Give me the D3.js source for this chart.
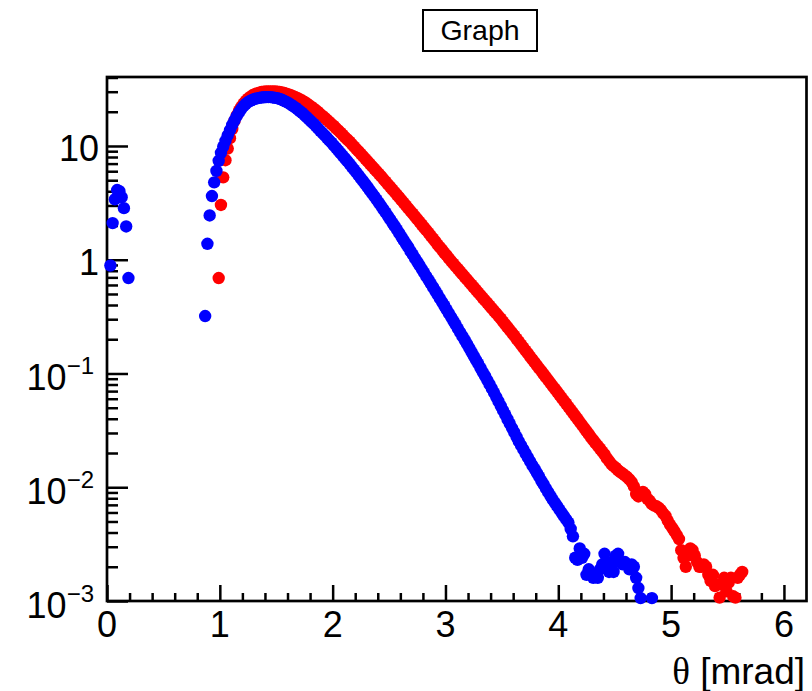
<!DOCTYPE html>
<html>
<head>
<meta charset="utf-8">
<script src="https://d3js.org/d3.v7.min.js"></script>
<style>
  body { margin: 0; background: #fff; }
  text { font-family: "Liberation Sans", Arial, Helvetica, sans-serif; fill: #000; }
  .tick line { stroke: #000; stroke-width: 2.5px; }
</style>
</head>
<body>
<svg id="chart" width="812" height="691"></svg>
<script>
  // bins are 0.02 mrad wide (null = empty bin)
  const binWidth = 0.02;

  // blue: small group near theta = 0
  const blueLowStart = 0.03;
  const blueLow = [0.89, 2.1, 3.4, 4.1, 4.0, 3.55, 2.84, 1.96, 0.69];

  // blue: main distribution, starting at 0.87 mrad
  const blueStart = 0.87;
  const blueVals = [
    0.32, 1.38, 2.45, 3.63, 4.79, 6.03, 7.41, 8.71, 9.89, 11.1,
    12.4, 13.8, 15.3, 16.8, 18.3, 19.7, 21.1, 22.4, 23.4, 24.3,
    24.9, 25.5, 25.9, 26.2, 26.5, 26.7, 26.8, 26.9, 26.9, 26.9,
    26.7, 26.5, 26.3, 25.9, 25.5, 24.9, 24.4, 23.8, 23.1, 22.4,
    21.7, 21.0, 20.2, 19.5, 18.7, 17.9, 17.1, 16.4, 15.7, 15.0,
    14.3, 13.6, 13.0, 12.4, 11.8, 11.2, 10.7, 10.1, 9.62, 9.12,
    8.65, 8.20, 7.76, 7.35, 6.95, 6.56, 6.19, 5.85, 5.52, 5.20,
    4.90, 4.61, 4.34, 4.07, 3.83, 3.60, 3.37, 3.16, 2.96, 2.77,
    2.59, 2.42, 2.26, 2.11, 1.97, 1.84, 1.71, 1.59, 1.48, 1.38,
    1.29, 1.19, 1.11, 1.03, 0.959, 0.891, 0.828, 0.769, 0.714, 0.664,
    0.617, 0.573, 0.531, 0.493, 0.457, 0.424, 0.394, 0.365, 0.338, 0.313,
    0.290, 0.269, 0.248, 0.230, 0.213, 0.197, 0.182, 0.168, 0.155, 0.143,
    0.132, 0.122, 0.112, 0.103, 0.0951, 0.0875, 0.0805, 0.0741, 0.0679, 0.0621,
    0.0568, 0.0519, 0.0474, 0.0434, 0.0396, 0.0362, 0.0331, 0.0303, 0.0277, 0.0253,
    0.0233, 0.0215, 0.0198, 0.0183, 0.0169, 0.0156, 0.0145, 0.0134, 0.0124, 0.0114,
    0.0106, 0.00977, 0.00904, 0.00838, 0.00780, 0.00728, 0.00681, 0.00637, 0.00596, 0.00557,
    0.00521, 0.00488, 0.0043, 0.0037, 0.0024, 0.0023, 0.0029, 0.0024, 0.0026, 0.0017,
    0.0019, 0.0017, 0.0016, 0.0017, 0.0016, 0.0019, 0.0021, 0.0026, 0.0022, 0.0018,
    0.0021, 0.0018, 0.0025, 0.0026, 0.0022, 0.0021, 0.0022, 0.0021, 0.0019, 0.0021,
    0.0020, 0.0016, 0.0013, 0.00106, null, null, null, null, 0.00106
  ];

  // red: starting at 0.99 mrad
  const redStart = 0.99;
  const redVals = [
    0.69, 3.03, 5.3, 7.5, 9.5, 11.7, 14.1, 16.6, 18.6, 20.4,
    22.1, 23.6, 24.9, 26.1, 27.0, 27.9, 28.5, 29.0, 29.4, 29.8,
    30.0, 30.1, 30.2, 30.2, 30.1, 30.1, 30.0, 29.8, 29.5, 29.2,
    28.8, 28.4, 27.9, 27.4, 26.9, 26.3, 25.7, 25.1, 24.4, 23.7,
    22.9, 22.2, 21.4, 20.7, 19.9, 19.1, 18.4, 17.7, 17.0, 16.3,
    15.6, 15.0, 14.3, 13.7, 13.1, 12.5, 11.9, 11.4, 10.9, 10.4,
    9.86, 9.40, 8.95, 8.53, 8.11, 7.71, 7.33, 6.97, 6.62, 6.30,
    5.98, 5.69, 5.40, 5.12, 4.85, 4.60, 4.37, 4.14, 3.93, 3.72,
    3.53, 3.34, 3.16, 2.99, 2.83, 2.68, 2.54, 2.40, 2.27, 2.15,
    2.03, 1.92, 1.82, 1.72, 1.62, 1.53, 1.45, 1.36, 1.29, 1.22,
    1.15, 1.09, 1.03, 0.973, 0.923, 0.875, 0.830, 0.787, 0.746, 0.708,
    0.671, 0.637, 0.604, 0.573, 0.543, 0.515, 0.489, 0.463, 0.440, 0.417,
    0.395, 0.375, 0.356, 0.337, 0.320, 0.303, 0.286, 0.270, 0.255, 0.241,
    0.228, 0.215, 0.202, 0.191, 0.179, 0.169, 0.159, 0.150, 0.141, 0.133,
    0.125, 0.118, 0.111, 0.105, 0.0986, 0.0929, 0.0875, 0.0824, 0.0776, 0.0731,
    0.0689, 0.0649, 0.0611, 0.0575, 0.0542, 0.0509, 0.0479, 0.0450, 0.0423, 0.0398,
    0.0374, 0.0352, 0.0331, 0.0311, 0.0293, 0.0275, 0.0259, 0.0244, 0.0231, 0.0218,
    0.0206, 0.0194, 0.0180, 0.0170, 0.0160, 0.0153, 0.0148, 0.0141, 0.0136, 0.0132,
    0.0127, 0.0123, 0.0117, 0.0111, 0.0102, 0.0087, 0.0083, 0.0087, 0.0091, 0.0087,
    0.0079, 0.0076, 0.0071, 0.0069, 0.0068, 0.0066, 0.0063, 0.0059, 0.0056, 0.0051,
    0.0047, 0.0044, 0.0041, 0.0038, 0.0035, 0.0028, 0.0024, 0.0020, 0.0025, 0.0029,
    0.0028, 0.0025, 0.0022, 0.0020, 0.0020, 0.0021, 0.0020, 0.0017, 0.0015, 0.0017,
    0.00135, 0.0014, 0.00107, 0.0014, 0.0016, 0.00122, 0.00145, 0.0016, 0.0011, 0.00107,
    0.0016, 0.0017, 0.0018
  ];

  const xTickValues = [0, 1, 2, 3, 4, 5, 6];
  const xTickLabels = ["0", "1", "2", "3", "4", "5", "6"];
  const yTickValues = [1e-3, 1e-2, 1e-1, 1, 10];
  const yTickBase = ["10", "10", "10", "1", "10"];
  const yTickExp = ["\u22123", "\u22122", "\u22121", "", ""];

  const svg = d3.select("#chart");
  const frame = { left: 107, top: 77, right: 806.5, bottom: 601 };

  const x = d3.scaleLinear().domain([0, 6.2]).range([frame.left, frame.right]);
  const y = d3.scaleLog().domain([1e-3, 40.4]).range([frame.bottom, frame.top]);

  function toPoints(start, vals) {
    return vals
      .map((v, i) => ({ theta: start + i * binWidth, value: v }))
      .filter(d => d.value != null);
  }

  const red = toPoints(redStart, redVals);
  const blue = toPoints(blueLowStart, blueLow).concat(toPoints(blueStart, blueVals));

  svg.append("rect")
    .attr("width", 812).attr("height", 691).attr("fill", "#fff");

  // ticks (pointing inward, like ROOT)
  const xMinor = d3.range(1, 31).map(i => i * 0.2).filter((d, i) => (i + 1) % 5 !== 0);
  const yMinor = [];
  for (let e = -3; e <= 1; e++) {
    for (let m = 2; m <= 9; m++) {
      const v = m * Math.pow(10, e);
      if (v < 40.4) yMinor.push(v);
    }
  }

  const xAxisG = svg.append("g").attr("transform", `translate(0,${frame.bottom})`);
  xAxisG.append("g").call(d3.axisBottom(x).tickValues(xMinor).tickSize(-8).tickSizeOuter(0).tickFormat(""));
  xAxisG.append("g").call(d3.axisBottom(x).tickValues(xTickValues).tickSize(-16).tickSizeOuter(0).tickFormat(""));

  const yAxisG = svg.append("g").attr("transform", `translate(${frame.left},0)`);
  yAxisG.append("g").call(d3.axisLeft(y).tickValues(yMinor).tickSize(-11).tickSizeOuter(0).tickFormat(""));
  yAxisG.append("g").call(d3.axisLeft(y).tickValues(yTickValues).tickSize(-21).tickSizeOuter(0).tickFormat(""));
  svg.selectAll(".domain").remove();

  // frame
  svg.append("rect")
    .attr("x", frame.left).attr("y", frame.top)
    .attr("width", frame.right - frame.left).attr("height", frame.bottom - frame.top)
    .attr("fill", "none").attr("stroke", "#000").attr("stroke-width", 2.7);

  // x tick labels
  svg.append("g").selectAll("text")
    .data(xTickValues)
    .join("text")
    .attr("x", d => x(d))
    .attr("y", frame.bottom + 36)
    .attr("text-anchor", "middle")
    .style("font-size", "36px")
    .text((d, i) => xTickLabels[i]);

  // y tick labels, with superscript exponents
  const yLab = svg.append("g").selectAll("text")
    .data(yTickValues)
    .join("text")
    .attr("x", (d, i) => yTickExp[i] ? frame.left - 13 : frame.left - 8)
    .attr("y", (d, i) => y(d) + (yTickExp[i] ? 17 : 15))
    .attr("text-anchor", "end")
    .style("font-size", "36px");
  yLab.append("tspan").text((d, i) => yTickBase[i]);
  yLab.append("tspan")
    .attr("dy", -16)
    .style("font-size", "24px")
    .text((d, i) => yTickExp[i]);

  // axis title
  const xTitle = svg.append("text")
    .attr("x", 805).attr("y", 684)
    .attr("text-anchor", "end")
    .style("font-size", "37px");
  xTitle.append("tspan").style("font-family", "'Liberation Serif', 'Times New Roman', serif").text("\u03b8");
  xTitle.append("tspan").text(" [mrad]");

  // markers: red first, blue on top
  const plot = svg.append("g");
  plot.selectAll("circle.red")
    .data(red)
    .join("circle")
    .attr("class", "red")
    .attr("cx", d => x(d.theta))
    .attr("cy", d => y(d.value))
    .attr("r", 6.2)
    .attr("fill", "#ff0000");

  plot.selectAll("circle.blue")
    .data(blue)
    .join("circle")
    .attr("class", "blue")
    .attr("cx", d => x(d.theta))
    .attr("cy", d => y(d.value))
    .attr("r", 6.2)
    .attr("fill", "#0000ff");

  // title box
  svg.append("rect")
    .attr("x", 423).attr("y", 10).attr("width", 114).attr("height", 41)
    .attr("fill", "#fff").attr("stroke", "#000").attr("stroke-width", 2);
  svg.append("text")
    .attr("x", 480).attr("y", 39.5)
    .attr("text-anchor", "middle")
    .style("font-size", "28.5px")
    .text("Graph");
</script>
</body>
</html>
